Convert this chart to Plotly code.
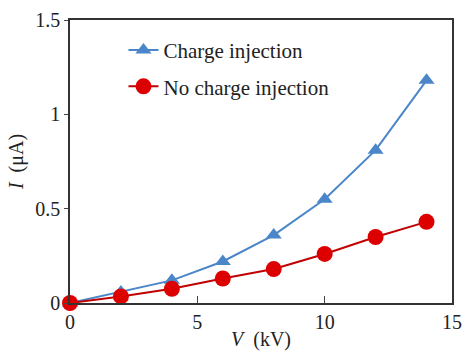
import plotly.graph_objects as go

V = [0, 2, 4, 6, 8, 10, 12, 14]
I_charge = [0.0, 0.058, 0.12, 0.22, 0.36, 0.55, 0.81, 1.18]
I_nocharge = [0.0, 0.035, 0.075, 0.13, 0.18, 0.26, 0.35, 0.43]
x_ticks = [0, 5, 10, 15]
y_ticks = [0, 0.5, 1, 1.5]
y_labels = ["0", "0.5", "1", "1.5"]

font = "Liberation Serif, Times New Roman, serif"

fig = go.Figure()
fig.add_trace(go.Scatter(x=V, y=I_charge, mode="lines+markers", name="Charge injection",
                         legendgroup="a",
                         line=dict(color="#4a86c8", width=2),
                         marker=dict(symbol="triangle-up", size=14, color="#4a86c8"),
                         cliponaxis=False))
fig.add_trace(go.Scatter(x=V, y=I_nocharge, mode="lines+markers", name="No charge injection",
                         legendgroup="b",
                         line=dict(color="#c00000", width=2),
                         marker=dict(symbol="circle", size=16, color="#dd0000"),
                         cliponaxis=False))

fig.update_layout(
    width=463, height=361,
    margin=dict(l=70, r=11, t=20, b=58),
    paper_bgcolor="white", plot_bgcolor="white",
    font=dict(family=font, size=20, color="#222"),
    showlegend=True,
    legend=dict(x=0.14, y=0.965, xanchor="left", yanchor="top",
                bgcolor="rgba(0,0,0,0)", font=dict(size=21, family=font),
                itemwidth=30, tracegroupgap=6),
    xaxis=dict(range=[0, 15], tickvals=x_ticks, ticks="inside", ticklen=7,
               tickcolor="#444", showline=True, linecolor="#333", linewidth=1.5,
               mirror=True, showgrid=False, zeroline=False, automargin=False,
               title=dict(text="<i>V</i>  (kV)", standoff=0, font=dict(size=20))),
    yaxis=dict(range=[0, 1.5], tickvals=y_ticks, ticktext=y_labels, ticks="outside",
               ticklen=4, tickcolor="#444", showline=True, linecolor="#333", linewidth=1.5,
               mirror=True, showgrid=False, zeroline=False, automargin=False,
               title=dict(text="<i>I</i>  (μA)", standoff=6, font=dict(size=20))),
)

fig.write_html("out.html", config={"displayModeBar": False},
               post_script="document.body.style.margin='0';")
